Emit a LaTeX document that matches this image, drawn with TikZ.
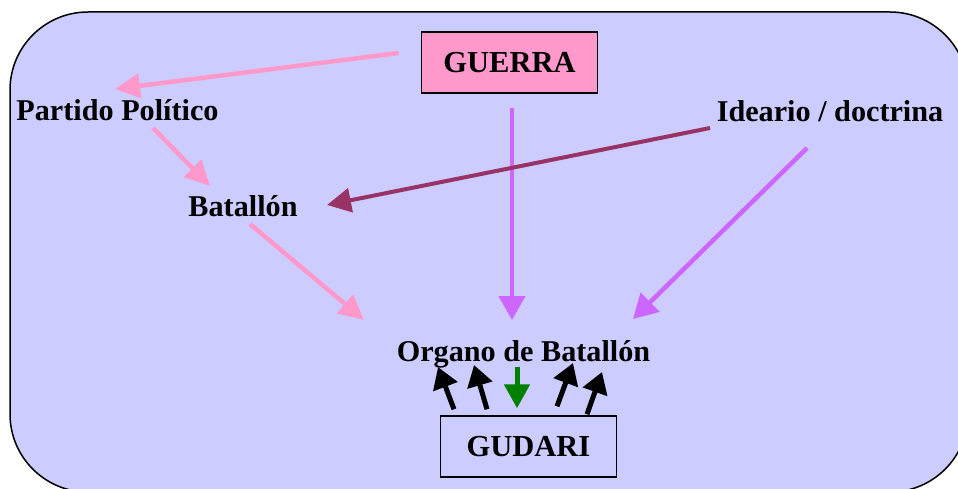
\documentclass[tikz,border=0pt]{standalone}
\usepackage{fontspec}
\setmainfont{Liberation Serif}
\usetikzlibrary{arrows.meta,calc}
\definecolor{bgc}{HTML}{CCCCFF}
\definecolor{pinkc}{HTML}{FF99CC}
\definecolor{violc}{HTML}{CC66FF}
\definecolor{plumc}{HTML}{993366}
\definecolor{greenc}{HTML}{008000}
\begin{document}
\begin{tikzpicture}[x=1pt,y=-1pt,
  lbl/.style={font=\bfseries\fontsize{30.2}{36}\selectfont, inner sep=0pt, anchor=base},
  boxnode/.style={draw=black, line width=1.5pt, minimum width=176pt, minimum height=61pt, inner sep=0pt, font=\bfseries\fontsize{30.5}{36}\selectfont},
  pinkarrow/.style={draw=pinkc, line width=4.5pt, -{Triangle[length=25pt,width=24pt]}},
  violarrow/.style={draw=violc, line width=4.5pt, -{Triangle[length=24pt,width=26pt]}},
  plumarrow/.style={draw=plumc, line width=4pt, -{Triangle[length=24pt,width=24pt]}},
  blackarrow/.style={draw=black, line width=5pt, -{Triangle[length=21pt,width=25pt]}},
  greenarrow/.style={draw=greenc, line width=5pt, -{Triangle[length=24pt,width=25pt]}}
]
\useasboundingbox (0,0) rectangle (958,489);
\fill[white] (0,0) rectangle (958,489);
\begin{scope}
\clip (0,0) rectangle (958,489);
\draw[fill=bgc, line width=1.5pt, rounded corners=78pt] (10,12) rectangle (968,492);
\end{scope}

\node[boxnode, fill=pinkc] (guerra) at (509.5,62.5) {GUERRA};
\node[boxnode, fill=bgc] (gudari) at (528.5,446.5) {GUDARI};
\node[lbl] (partido) at (117.5,121) {Partido Político};
\node[lbl] (batallon) at (243,217) {Batallón};
\node[lbl] (ideario) at (830,122) {Ideario / doctrina};
\node[lbl] (organo) at (523.5,361) {Organo de Batallón};

\draw[pinkarrow] ($(guerra.west)+(-22,-9.5)$) -- ($(partido.base)+(-2.5,-32)$);
\draw[pinkarrow] ($(partido.base)+(35.5,7)$) -- ($(batallon.base)+(-33,-31)$);
\draw[pinkarrow] ($(batallon.base)+(7,7)$) -- ($(organo.base)+(-159.5,-41)$);
\draw[violarrow] ($(guerra.south)+(2.5,14)$) -- ($(organo.base)+(-11.5,-41)$);
\draw[plumarrow] ($(ideario.base)+(-120,6)$) -- ($(batallon.base)+(84,-12)$);
\draw[violarrow] ($(ideario.base)+(-23,26)$) -- ($(organo.base)+(109.5,-42)$);

\draw[blackarrow] ($(gudari.north)+(-74.5,-6)$) -- ($(organo.base)+(-85.5,6)$);
\draw[blackarrow] ($(gudari.north)+(-41.5,-6)$) -- ($(organo.base)+(-49.5,4)$);
\draw[greenarrow] ($(organo.base)+(-6.5,6)$) -- ($(gudari.north)+(-11.5,-7)$);
\draw[blackarrow] ($(gudari.north)+(28.5,-9)$) -- ($(organo.base)+(49.5,2)$);
\draw[blackarrow] ($(gudari.north)+(58.5,-1)$) -- ($(organo.base)+(78.5,11)$);
\end{tikzpicture}
\end{document}
